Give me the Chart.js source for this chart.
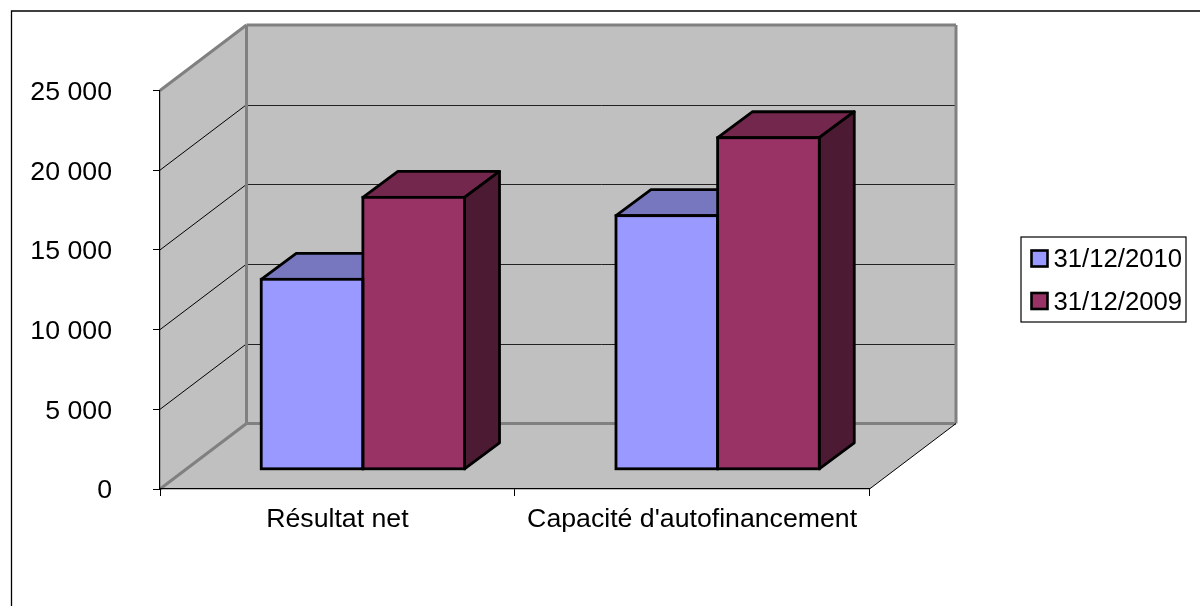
<!DOCTYPE html>
<html>
<head>
<meta charset="utf-8">
<title>Résultat net</title>
<script src="https://cdn.jsdelivr.net/npm/chart.js@4"></script>
<style>
body { margin: 0; background: #fff; }
canvas { display: block; }
</style>
</head>
<body>
<canvas id="resultChart" width="1200" height="606"></canvas>
<script>
const categories = ['Résultat net', "Capacité d'autofinancement"];
const values2010 = [11920, 15910];
const values2009 = [17060, 20800];
const yTicks = [0, 5000, 10000, 15000, 20000, 25000];

const fontName = '"Liberation Sans", Arial, sans-serif';

// decalage des plans 3D
const wallX = 86.5, wallY = -65.5;
const barShiftX = 25.5, barShiftY = -19.7;
const depthX = 35, depthY = -26;

function poly(ctx, pts, fill, stroke, lw) {
    ctx.beginPath();
    pts.forEach((p, i) => i ? ctx.lineTo(p[0], p[1]) : ctx.moveTo(p[0], p[1]));
    ctx.closePath();
    if (fill) { ctx.fillStyle = fill; ctx.fill(); }
    if (stroke) { ctx.strokeStyle = stroke; ctx.lineWidth = lw; ctx.lineJoin = 'round'; ctx.stroke(); }
}

function line(ctx, x1, y1, x2, y2, color, lw) {
    ctx.beginPath();
    ctx.moveTo(x1, y1);
    ctx.lineTo(x2, y2);
    ctx.strokeStyle = color;
    ctx.lineWidth = lw;
    ctx.stroke();
}

const walls = {
    id: 'walls',
    beforeDraw(chart) {
        const ctx = chart.ctx;
        const a = chart.chartArea;
        const bx = a.left + wallX, bTop = a.top + wallY, bBot = a.bottom + wallY, bR = a.right + wallX;
        ctx.save();
        ctx.fillStyle = '#fff';
        ctx.fillRect(0, 0, 1200, 606);
        // cadre exterieur
        ctx.beginPath();
        ctx.moveTo(11.5, 606);
        ctx.lineTo(11.5, 11);
        ctx.lineTo(1200, 11);
        ctx.strokeStyle = '#000';
        ctx.lineWidth = 1.3;
        ctx.stroke();
        poly(ctx, [[a.left, a.top], [bx, bTop], [bx, bBot], [a.left, a.bottom]], '#c0c0c0');
        poly(ctx, [[bx, bTop], [bR, bTop], [bR, bBot], [bx, bBot]], '#c0c0c0');
        poly(ctx, [[a.left, a.bottom], [bx, bBot], [bR, bBot], [a.right, a.bottom]], '#c0c0c0');
        yTicks.forEach(v => {
            if (v === 0 || v === 25000) return;
            const y = chart.scales.y.getPixelForValue(v);
            line(ctx, a.left, y, bx, y + wallY, '#000', 1);
            line(ctx, bx, Math.round(y + wallY) + 0.5, bR, Math.round(y + wallY) + 0.5, '#222', 1);
        });
        // aretes grises
        line(ctx, a.left, a.top, bx, bTop, '#808080', 3);
        line(ctx, a.left, a.bottom, bx, bBot, '#808080', 3);
        line(ctx, bx, bTop, bR, bTop, '#808080', 3);
        line(ctx, bx, bTop, bx, bBot, '#808080', 3);
        line(ctx, bR, bTop, bR, bBot, '#808080', 3);
        line(ctx, bx, bBot, bR, bBot, '#808080', 3);
        line(ctx, a.right, a.bottom, bR, bBot, '#000', 1);
        ctx.restore();
    },
    beforeDatasetsDraw(chart) {
        const ctx = chart.ctx;
        ctx.save();
        ctx.translate(barShiftX, barShiftY);
        chart.data.datasets.forEach((ds, i) => {
            chart.getDatasetMeta(i).data.forEach(bar => {
                const l = bar.x - bar.width / 2, r = bar.x + bar.width / 2;
                poly(ctx, [[l, bar.y], [l + depthX, bar.y + depthY], [r + depthX, bar.y + depthY], [r, bar.y]], ds.topColor, '#000', 2.8);
                poly(ctx, [[r, bar.y], [r + depthX, bar.y + depthY], [r + depthX, bar.base + depthY], [r, bar.base]], ds.sideColor, '#000', 2.8);
            });
        });
        ctx.restore();
        ctx.save();
        ctx.translate(barShiftX, barShiftY);
    },
    afterDatasetsDraw(chart) {
        const ctx = chart.ctx;
        chart.data.datasets.forEach((ds, i) => {
            chart.getDatasetMeta(i).data.forEach(bar => {
                const l = bar.x - bar.width / 2;
                ctx.strokeStyle = '#000';
                ctx.lineWidth = 2.8;
                ctx.strokeRect(l, bar.y, bar.width, bar.base - bar.y);
            });
        });
        ctx.restore();
    },
    afterDraw(chart) {
        // legende
        const ctx = chart.ctx;
        ctx.save();
        ctx.fillStyle = '#fff';
        ctx.fillRect(1021, 237, 165, 85);
        ctx.strokeStyle = '#000';
        ctx.lineWidth = 1.2;
        ctx.strokeRect(1021, 237, 165, 85);
        ctx.font = '25.7px ' + fontName;
        ctx.textBaseline = 'middle';
        chart.data.datasets.forEach((ds, i) => {
            const y = 258.5 + i * 42.5;
            ctx.fillStyle = ds.backgroundColor;
            ctx.fillRect(1031.5, y - 8, 16, 16);
            ctx.strokeStyle = '#000';
            ctx.lineWidth = 2.6;
            ctx.strokeRect(1031.5, y - 8, 16, 16);
            ctx.fillStyle = '#000';
            ctx.fillText(ds.label, 1053.5, y + 1.5);
        });
        ctx.restore();
    }
};

new Chart(document.getElementById('resultChart'), {
    type: 'bar',
    data: {
        labels: categories,
        datasets: [
            { label: '31/12/2010', data: values2010, backgroundColor: '#9999ff', topColor: '#7777c0', sideColor: '#4d4d80', borderWidth: 0, inflateAmount: 0 },
            { label: '31/12/2009', data: values2009, backgroundColor: '#993366', topColor: '#73274d', sideColor: '#4d1a33', borderWidth: 0, inflateAmount: 0 }
        ]
    },
    options: {
        responsive: false,
        animation: false,
        devicePixelRatio: 1,
        barPercentage: 1,
        categoryPercentage: 0.573,
        layout: { padding: { top: 90.5, right: 330.5, bottom: 0, left: 0 } },
        plugins: { legend: { display: false }, tooltip: { enabled: false } },
        scales: {
            x: {
                afterFit: s => { s.height = 117; },
                grid: { drawOnChartArea: false, tickLength: 7, color: '#000', tickColor: '#000' },
                border: { color: '#000', width: 1.2 },
                ticks: { color: '#000', padding: 8, maxRotation: 0, font: { family: fontName, size: 26.7 } }
            },
            y: {
                min: 0,
                max: 25000,
                afterFit: s => { s.width = 160; },
                afterBuildTicks: s => { s.ticks = yTicks.map(v => ({ value: v })); },
                grid: { drawOnChartArea: false, tickLength: 7, color: '#000', tickColor: '#000' },
                border: { color: '#000', width: 1.2 },
                ticks: {
                    color: '#000',
                    padding: 41,
                    labelOffset: 2,
                    font: { family: fontName, size: 26.7 },
                    callback: v => String(v).replace(/\B(?=(\d{3})+$)/g, ' ')
                }
            }
        }
    },
    plugins: [walls]
});
</script>
</body>
</html>
